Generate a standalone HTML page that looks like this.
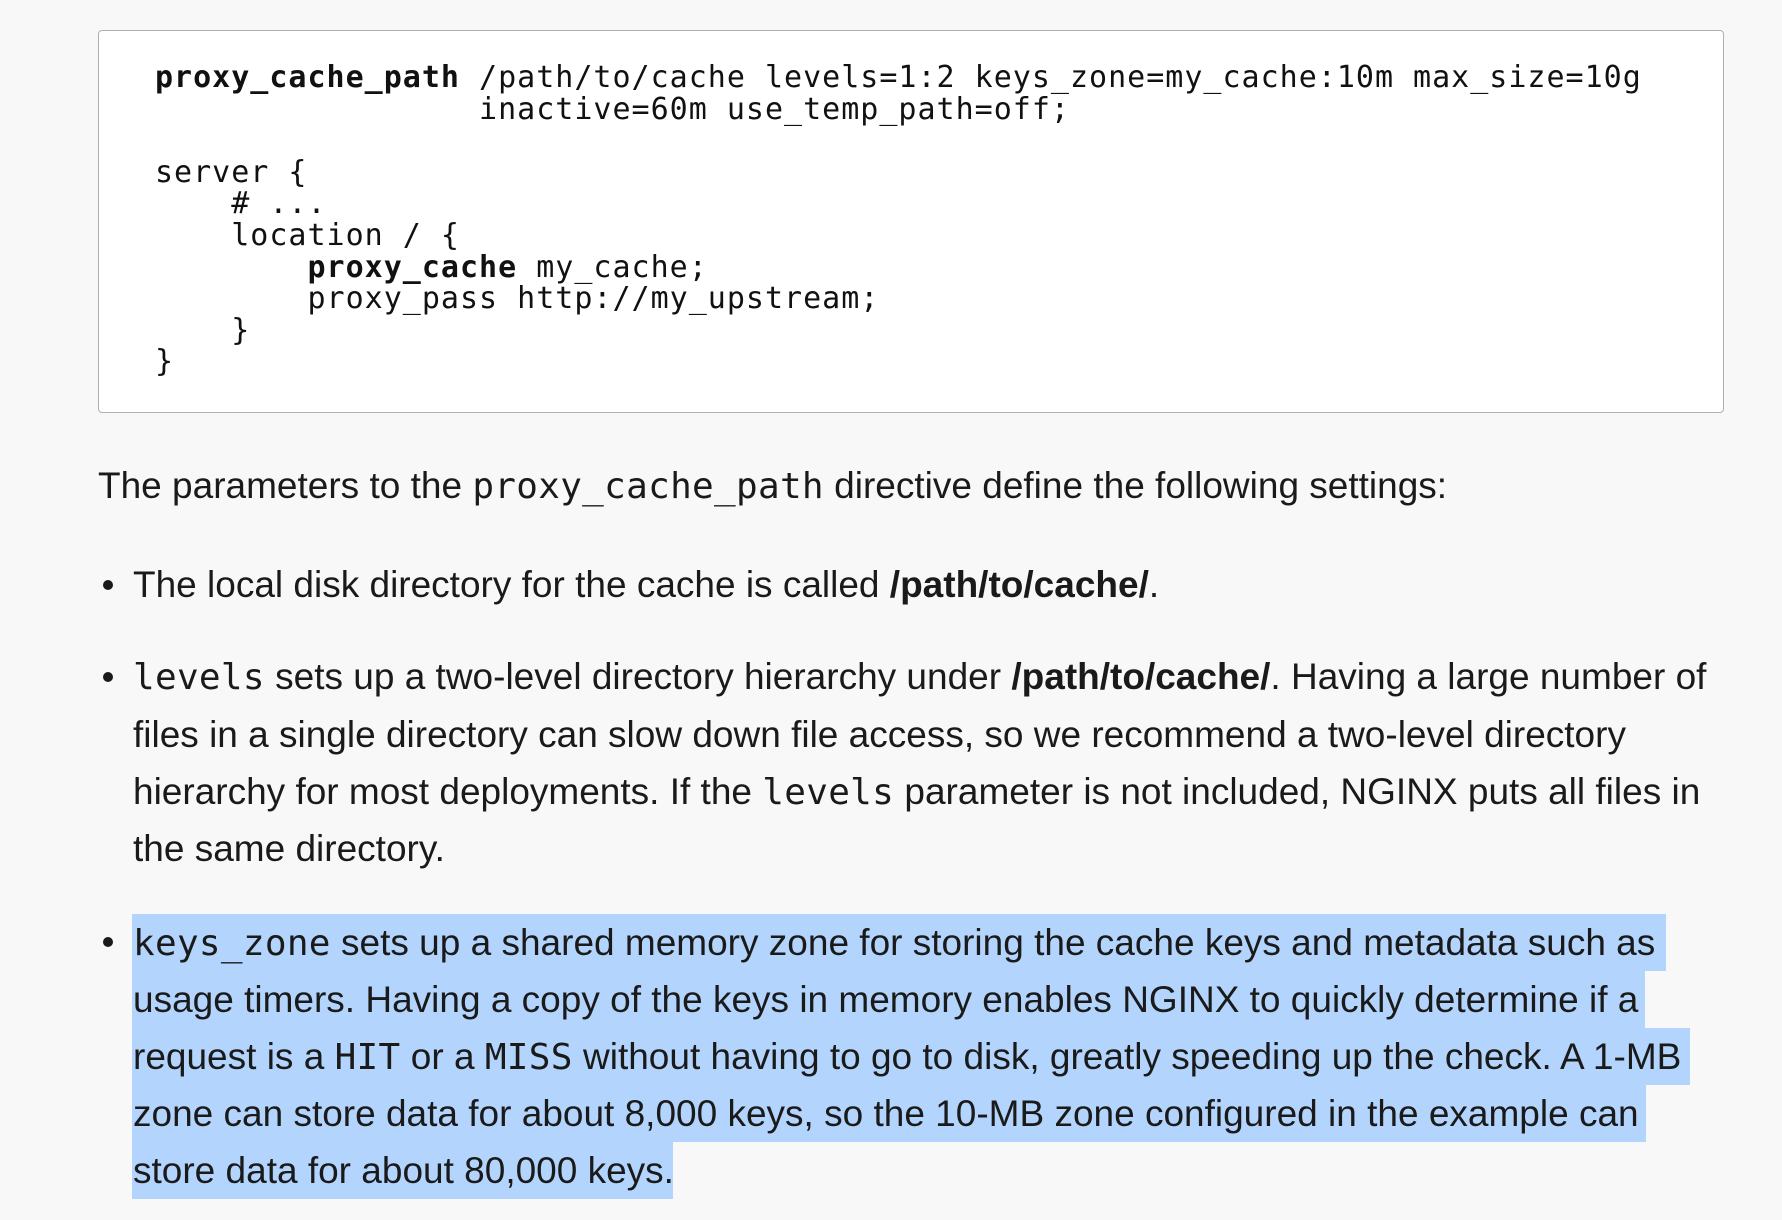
<!DOCTYPE html>
<html><head><meta charset="utf-8"><style>
html,body{margin:0;padding:0;}
body{width:1782px;height:1220px;background:#f8f8f8;position:relative;overflow:hidden;color:#1a1a1a;font-family:"Liberation Sans",Arial,sans-serif;font-size:37px;}
.box{position:absolute;left:98px;top:30px;width:1624px;height:381px;background:#fff;border:1.5px solid #b0b0b0;border-radius:4px;}
pre{position:absolute;left:155px;top:62px;margin:0;font-family:"DejaVu Sans Mono","Liberation Mono",monospace;font-size:30px;line-height:31.6px;color:#111;letter-spacing:1.0px;}
pre b{font-weight:bold;}
.l{position:absolute;white-space:nowrap;line-height:57px;height:57px;}
code{font-family:"DejaVu Sans Mono","Liberation Mono",monospace;font-size:36px;letter-spacing:0.3px;}
.dot{position:absolute;width:10px;height:10px;border-radius:50%;background:#1a1a1a;left:103px;}
.hl{position:absolute;left:132px;height:57px;background:#b3d4fc;}
</style></head><body>
<div class="box"></div>
<pre><b>proxy_cache_path</b> /path/to/cache levels=1:2 keys_zone=my_cache:10m max_size=10g
                 inactive=60m use_temp_path=off;

server {
    # ...
    location / {
        <b>proxy_cache</b> my_cache;
        proxy_pass http://my_upstream;
    }
}</pre>
<div class="l" style="left:98px;top:457px">The parameters to the <code>proxy_cache_path</code> directive define the following settings:</div>

<div class="dot" style="top:580px"></div>
<div class="l" style="left:133px;top:556px">The local disk directory for the cache is called <b>/path/to/cache/</b>.</div>

<div class="dot" style="top:672px"></div>
<div class="l" style="left:133px;top:648px"><code>levels</code> sets up a two-level directory hierarchy under <b>/path/to/cache/</b>. Having a large number of</div>
<div class="l" style="left:133px;top:706px">files in a single directory can slow down file access, so we recommend a two-level directory</div>
<div class="l" style="left:133px;top:763px">hierarchy for most deployments. If the <code>levels</code> parameter is not included, NGINX puts all files in</div>
<div class="l" style="left:133px;top:820px">the same directory.</div>

<div class="hl" style="top:914px;width:1534px"></div>
<div class="hl" style="top:971px;width:1513px"></div>
<div class="hl" style="top:1028px;width:1558px"></div>
<div class="hl" style="top:1085px;width:1514px"></div>
<div class="hl" style="top:1142px;width:541px"></div>
<div class="dot" style="top:937px"></div>
<div class="l" style="left:133px;top:914px"><code>keys_zone</code> sets up a shared memory zone for storing the cache keys and metadata such as</div>
<div class="l" style="left:133px;top:971px">usage timers. Having a copy of the keys in memory enables NGINX to quickly determine if a</div>
<div class="l" style="left:133px;top:1028px">request is a <code>HIT</code> or a <code>MISS</code> without having to go to disk, greatly speeding up the check. A 1-MB</div>
<div class="l" style="left:133px;top:1085px">zone can store data for about 8,000 keys, so the 10-MB zone configured in the example can</div>
<div class="l" style="left:133px;top:1142px">store data for about 80,000 keys.</div>
</body></html>
